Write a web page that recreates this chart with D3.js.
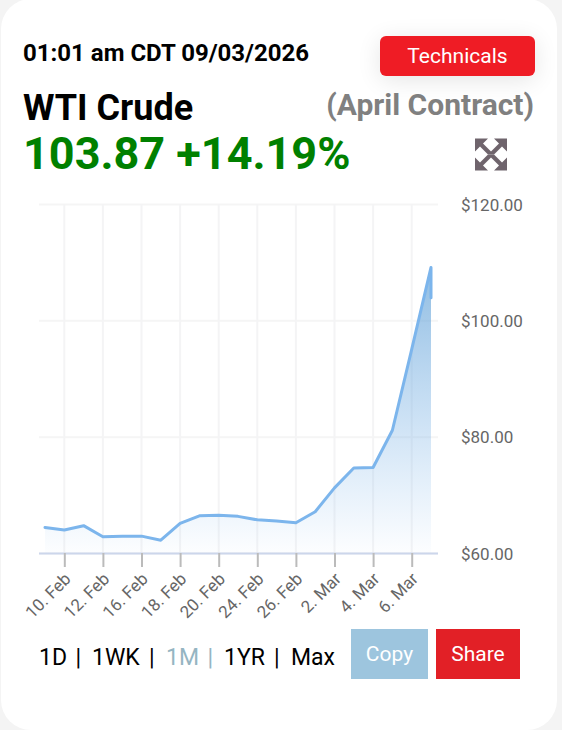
<!DOCTYPE html>
<html>
<head>
<meta charset="utf-8">
<script src="https://cdn.jsdelivr.net/npm/d3@7"></script>
<style>
  html, body { margin: 0; padding: 0; background: #f4f4f4; overflow: hidden; }
  text { font-family: Roboto, sans-serif; }
</style>
</head>
<body>
<div id="chart"></div>
<script>
// trading sessions, 9 Mar appears twice because the last tick falls back on the same x
var sessions = ["9 Feb", "10. Feb", "11 Feb", "12. Feb", "13 Feb", "16. Feb", "17 Feb", "18. Feb", "19 Feb", "20. Feb",
    "23 Feb", "24. Feb", "25 Feb", "26. Feb", "27 Feb", "2. Mar", "3 Mar", "4. Mar", "5 Mar", "6. Mar", "9 Mar", "9 Mar"];
var prices = [64.4, 63.95, 64.7, 62.8, 62.9, 62.9, 62.2, 65.1, 66.4, 66.5,
    66.3, 65.7, 65.5, 65.2, 67.1, 71.2, 74.6, 74.7, 81.1, 95.0, 109.1, 103.87];
var xTickLabels = ["10. Feb", "12. Feb", "16. Feb", "18. Feb", "20. Feb", "24. Feb", "26. Feb", "2. Mar", "4. Mar", "6. Mar"];
var yTicks = [60, 80, 100, 120];
var rangeLinks = ["1D", "1WK", "1M", "1YR", "Max"];

var svgWidth = 562;
var svgHeight = 730;

var svg = d3.select("#chart")
    .append("svg")
    .attr("width", svgWidth)
    .attr("height", svgHeight)
    .style("display", "block");

var defs = svg.append("defs");

var shadow = defs.append("filter").attr("id", "btnShadow")
    .attr("x", "-30%").attr("y", "-80%").attr("width", "160%").attr("height", "260%");
shadow.append("feGaussianBlur").attr("stdDeviation", 12);

var grad = defs.append("linearGradient").attr("id", "areaFill")
    .attr("gradientUnits", "userSpaceOnUse")
    .attr("x1", 0).attr("x2", 0).attr("y1", 267).attr("y2", 553);
grad.append("stop").attr("offset", 0).attr("stop-color", "#6aa6d8").attr("stop-opacity", 0.75);
grad.append("stop").attr("offset", 1).attr("stop-color", "#7cb5ec").attr("stop-opacity", 0.02);

// CARD
//=====================
svg.append("rect")
    .attr("x", 1).attr("y", -1)
    .attr("width", 556).attr("height", 731)
    .attr("rx", 30)
    .attr("fill", "#fff");

// HEADER
//=====================
svg.append("text").attr("x", 23).attr("y", 61)
    .attr("font-size", 24).attr("font-weight", 700).attr("fill", "#000")
    .text("01:01 am CDT 09/03/2026");

svg.append("rect").attr("x", 380).attr("y", 40).attr("width", 155).attr("height", 40).attr("rx", 6)
    .attr("fill", "#000").attr("opacity", 0.1).attr("filter", "url(#btnShadow)");
svg.append("rect").attr("x", 380).attr("y", 36).attr("width", 155).attr("height", 40).attr("rx", 6)
    .attr("fill", "#ef1c25");
svg.append("text").attr("x", 457.5).attr("y", 63)
    .attr("text-anchor", "middle").attr("font-size", 21).attr("fill", "#fff")
    .text("Technicals");

svg.append("text").attr("x", 23).attr("y", 120)
    .attr("font-size", 36).attr("font-weight", 700).attr("fill", "#000")
    .text("WTI Crude");
svg.append("text").attr("x", 534).attr("y", 115)
    .attr("text-anchor", "end").attr("font-size", 30).attr("font-weight", 700).attr("fill", "#808080")
    .text("(April Contract)");
svg.append("text").attr("x", 23).attr("y", 169)
    .attr("font-size", 45).attr("font-weight", 700).attr("fill", "#008000")
    .text("103.87 +14.19%");

// expand icon
var icon = svg.append("g").attr("transform", "translate(491,154.5)").attr("fill", "#6f646c");
[0, 90, 180, 270].forEach(function(a) {
    icon.append("path")
        .attr("transform", "rotate(" + a + ")")
        .attr("d", "M-16,-16 H-3 L-8,-11 L0,-3 V0 H-3 L-11,-8 L-16,-3 Z");
});

// CHART
//=====================
var xScale = d3.scalePoint()
    .domain(sessions)
    .range([45, 431]);

var yScale = d3.scaleLinear()
    .domain([60, 120])
    .range([553, 204]);

var plotLeft = 39;
var plotRight = 438;

var yGrid = svg.append("g").call(d3.axisRight(yScale)
    .tickValues(yTicks)
    .tickSize(plotRight - plotLeft)
    .tickFormat(d => "$" + d3.format(".2f")(d)))
    .attr("transform", `translate(${plotLeft}, 0)`);
yGrid.select(".domain").remove();
yGrid.selectAll("line").attr("stroke", "#f5f5f5").attr("stroke-width", 2);
yGrid.selectAll("text")
    .attr("x", 461 - plotLeft)
    .attr("dy", "0.36em")
    .attr("font-size", 17)
    .attr("font-family", "Roboto, sans-serif")
    .attr("fill", "#666");

// vertical grid lines
svg.append("g").selectAll("line")
    .data(xTickLabels)
    .enter()
    .append("line")
    .attr("x1", d => xScale(d))
    .attr("x2", d => xScale(d))
    .attr("y1", 204)
    .attr("y2", 553)
    .attr("stroke", "#f4f4f5")
    .attr("stroke-width", 2);

var points = sessions.map((s, i) => ({ s: s, v: prices[i] }));

var area = d3.area()
    .x(d => xScale(d.s))
    .y0(553)
    .y1(d => yScale(d.v));

var line = d3.line()
    .x(d => xScale(d.s))
    .y(d => yScale(d.v));

svg.append("path").datum(points)
    .attr("d", area)
    .attr("fill", "url(#areaFill)");

svg.append("path").datum(points)
    .attr("d", line)
    .attr("fill", "none")
    .attr("stroke", "#7cb5ec")
    .attr("stroke-width", 3)
    .attr("stroke-linejoin", "round")
    .attr("stroke-linecap", "round");

// x axis
var xAxis = svg.append("g")
    .attr("transform", "translate(0, 553)")
    .call(d3.axisBottom(xScale).tickValues(xTickLabels).tickSize(14));
xAxis.select(".domain")
    .attr("d", `M${plotLeft},0.5H${plotRight}`)
    .attr("stroke", "#ccd6eb")
    .attr("stroke-width", 2);
xAxis.selectAll("line").attr("stroke", "#bbb").attr("stroke-width", 2);
xAxis.selectAll("text")
    .attr("x", 0)
    .attr("y", 0)
    .attr("dy", 0)
    .attr("font-size", 17)
    .attr("font-family", "Roboto, sans-serif")
    .attr("fill", "#666")
    .attr("text-anchor", "end")
    .attr("transform", "translate(7, 27) rotate(-45)");

// FOOTER
//=====================
var linkX = [39, 92, 166, 224, 291];
var sepX = [75.5, 149, 207.5, 274];
rangeLinks.forEach(function(d, i) {
    var col = d === "1M" ? "#95b5c2" : "#000";
    svg.append("text").attr("x", linkX[i]).attr("y", 665)
        .attr("font-size", 23).attr("fill", col).text(d);
    if (i < sepX.length) {
        svg.append("text").attr("x", sepX[i]).attr("y", 665)
            .attr("font-size", 23).attr("fill", col).text("|");
    }
});

svg.append("rect").attr("x", 351).attr("y", 629).attr("width", 77).attr("height", 50)
    .attr("fill", "#9dc5de");
svg.append("text").attr("x", 389.5).attr("y", 661)
    .attr("text-anchor", "middle").attr("font-size", 21).attr("fill", "#fff").text("Copy");

svg.append("rect").attr("x", 436).attr("y", 629).attr("width", 84).attr("height", 50)
    .attr("fill", "#e22026");
svg.append("text").attr("x", 478).attr("y", 661)
    .attr("text-anchor", "middle").attr("font-size", 21).attr("fill", "#fff").text("Share");
</script>
</body>
</html>
